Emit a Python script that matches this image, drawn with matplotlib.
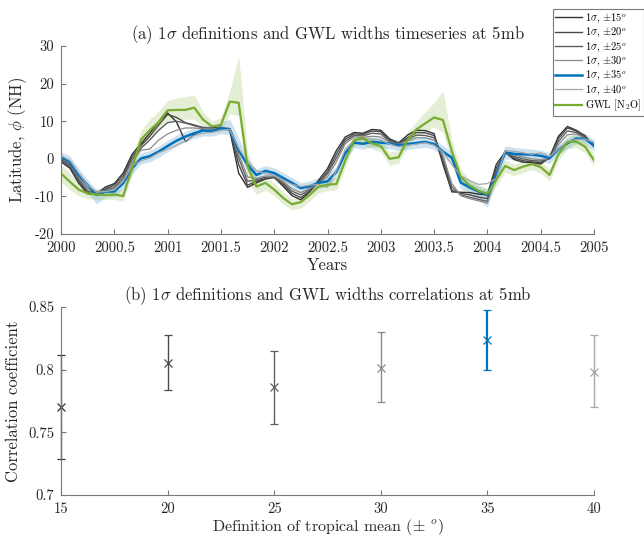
import matplotlib
matplotlib.use('Agg')
import matplotlib.pyplot as plt
import numpy as np

plt.rcParams['font.family'] = 'serif'
plt.rcParams['font.serif'] = ['cmr10']
plt.rcParams['mathtext.fontset'] = 'cm'
plt.rcParams['axes.unicode_minus'] = False

# monthly timeseries, 2000 -> 2005
years = np.linspace(2000, 2005, 61)

lat15 = [-0.8, -2.5, -6.5, -9.3, -9.4, -7.5, -6.6, -3.8, 1.2, 4.0, 6.8, 9.8, 12.2, 9.8, 4.6, 6.4,
         8.0, 8.2, 8.4, 7.6, -3.8, -7.6, -6.4, -5.4, -4.9, -7.3, -9.8, -10.9, -8.8, -5.7, -2.6,
         2.2, 5.8, 7.0, 6.8, 7.8, 7.6, 5.3, 4.2, 6.3, 7.6, 7.5, 6.7, -1.5, -8.8, -8.9, -9.0, -9.4,
         -9.6, -1.5, 1.8, -0.2, -0.9, -1.0, -1.4, 0.4, 6.0, 8.6, 7.6, 6.1, 3.2]
lat20 = [-0.3, -2.0, -6.0, -9.0, -9.3, -8.0, -7.0, -4.5, 0.5, 3.5, 6.0, 9.0, 11.8, 11.0, 9.6, 9.0,
         8.3, 8.0, 8.2, 7.8, -1.5, -7.0, -6.0, -5.2, -5.0, -6.8, -9.2, -10.3, -8.6, -6.2, -3.4,
         1.2, 5.2, 6.6, 6.5, 7.4, 7.2, 5.0, 4.0, 5.6, 7.0, 6.9, 6.2, -0.5, -8.4, -9.2, -9.6, -10.2,
         -10.6, -2.5, 1.6, 0.2, -0.5, -0.8, -1.0, 0.2, 5.4, 8.2, 7.4, 5.8, 3.6]
lat25 = [0.0, -1.6, -5.4, -8.6, -9.0, -8.3, -7.6, -5.2, -0.2, 2.8, 5.0, 7.6, 9.6, 10.0, 9.5, 8.8,
         8.2, 8.0, 8.2, 8.0, 0.2, -6.0, -5.6, -4.9, -4.8, -6.4, -8.6, -9.6, -8.2, -6.4, -4.0,
         0.2, 4.6, 6.2, 6.1, 6.8, 6.6, 4.7, 3.9, 5.2, 6.3, 6.2, 5.6, 0.3, -7.5, -9.6, -10.2, -10.8,
         -11.3, -3.6, 1.6, 0.6, 0.0, -0.5, -0.6, 0.0, 4.6, 7.4, 7.0, 5.6, 3.9]
lat30 = [0.3, -1.2, -4.9, -8.0, -8.8, -8.5, -8.0, -5.8, -1.0, 2.3, 2.6, 5.0, 6.6, 7.6, 8.2, 8.2,
         8.0, 7.9, 8.2, 8.1, 1.2, -4.8, -5.2, -4.6, -4.6, -6.0, -8.0, -9.0, -7.8, -6.5, -4.8,
         -0.8, 4.0, 5.8, 5.7, 6.0, 5.8, 4.4, 3.8, 4.8, 5.6, 5.6, 5.0, 0.8, -6.6, -9.8, -10.6, -11.2,
         -11.8, -4.4, 1.8, 1.0, 0.5, 0.0, -0.2, 0.1, 3.8, 6.4, 6.6, 5.4, 4.1]
lat35 = [0.5, -0.8, -4.3, -7.0, -9.6, -8.7, -8.7, -6.5, -2.5, 0.1, 0.7, 1.9, 3.4, 4.8, 5.9, 6.8,
         7.5, 7.4, 8.1, 7.8, 2.3, -1.6, -4.3, -3.2, -3.8, -5.1, -6.4, -7.8, -7.3, -6.4, -6.0,
         -3.5, 1.5, 4.3, 4.0, 4.5, 4.3, 4.1, 3.6, 3.9, 4.2, 4.5, 3.9, 1.9, 0.3, -6.3, -7.6, -8.7,
         -9.6, -4.3, 1.7, 1.3, 1.2, 1.1, 0.8, 0.2, 2.5, 4.1, 5.4, 5.3, 3.5]
lat35_hi = [1.9, 0.8, -2.6, -5.6, -8.2, -7.3, -7.3, -5.0, -1.0, 1.6, 2.2, 3.4, 4.9, 6.3, 7.3, 8.2,
            8.9, 8.8, 9.6, 10.6, 5.5, 0.2, -2.8, -1.8, -2.4, -3.7, -5.0, -6.4, -5.9, -5.0, -4.5,
            -2.0, 3.0, 5.7, 5.4, 5.9, 5.7, 5.5, 5.0, 5.3, 5.6, 5.9, 5.3, 3.5, 1.8, -4.6, -6.0, -7.2,
            -8.2, -2.5, 3.5, 3.0, 2.8, 2.6, 2.3, 1.6, 3.9, 5.5, 6.8, 6.8, 5.0]
lat35_lo = [-0.8, -2.4, -6.0, -9.0, -12.0, -10.2, -10.1, -8.0, -4.0, -1.4, -0.8, 0.4, 1.9, 3.3, 4.5, 5.4,
            6.1, 6.0, 6.7, 6.4, 0.8, -3.4, -6.0, -4.6, -5.2, -6.5, -7.8, -9.2, -8.7, -7.8, -7.5,
            -5.0, 0.0, 2.9, 2.6, 3.1, 2.9, 2.7, 2.2, 2.5, 2.8, 3.1, 2.5, 0.3, -1.2, -8.0, -9.4, -11.0,
            -12.8, -6.0, 0.0, -0.2, -0.3, -0.4, -0.7, -1.2, 1.1, 2.7, 4.0, 3.9, 2.0]
lat40 = [0.8, -0.4, -3.8, -7.0, -8.9, -8.7, -8.3, -6.0, -1.9, -0.5, 0.2, 1.6, 2.6, 3.6, 4.8, 6.2,
         6.8, 7.0, 7.6, 7.8, 2.8, -0.8, -3.2, -3.9, -4.4, -5.6, -6.8, -7.4, -7.0, -6.8, -7.6,
         -3.2, 2.6, 5.0, 5.4, 5.2, 5.0, 3.9, 3.2, 3.6, 3.9, 4.3, 3.6, 1.8, -1.6, -4.5, -5.8, -6.8,
         -6.6, -5.2, 2.2, 2.0, 1.6, 1.2, 1.6, 0.6, 2.5, 4.5, 5.2, 5.2, 4.4]
gwl = [-3.9, -6.1, -8.2, -9.2, -9.5, -9.6, -9.5, -9.9, -2.5, 5.1, 7.6, 9.8, 12.9, 13.0, 13.0, 13.6,
       10.4, 8.6, 9.0, 15.2, 14.9, -2.0, -7.4, -6.4, -8.2, -10.4, -12.1, -11.5, -9.6, -7.4, -6.9,
       -6.7, -0.5, 5.0, 5.4, 4.1, 3.4, 0.0, 0.4, 5.0, 7.8, 9.4, 11.0, 10.3, 2.0, -4.8, -7.1, -8.5,
       -9.3, -5.6, -1.9, -3.0, -2.1, -1.4, -2.2, -4.3, 1.2, 4.4, 4.6, 3.2, -0.4]
gwl_hi = [-1.5, -3.8, -6.2, -7.6, -8.0, -8.2, -8.0, -8.2, 0.5, 7.5, 10.5, 12.8, 15.5, 16.2, 16.5, 17.0,
          12.5, 10.0, 11.0, 18.0, 27.5, 2.0, -5.0, -4.5, -6.5, -8.8, -10.6, -10.0, -8.0, -5.8, -5.3,
          -5.0, 1.5, 6.5, 7.0, 5.6, 5.0, 1.8, 2.2, 7.0, 10.0, 12.5, 15.0, 18.0, 5.0, -2.8, -5.4, -7.0,
          -7.8, -3.8, -0.3, -1.4, -0.6, 0.0, -0.6, -2.8, 2.8, 6.2, 6.4, 4.8, 1.2]
gwl_lo = [-6.0, -8.3, -9.8, -10.6, -10.8, -10.9, -10.8, -11.3, -4.5, 3.0, 5.5, 7.4, 10.0, 10.5, 10.5, 10.6,
          8.5, 7.0, 7.2, 12.0, 11.5, -6.0, -9.6, -8.3, -9.8, -12.0, -13.6, -13.1, -11.2, -9.0, -8.5,
          -8.3, -2.3, 3.5, 3.8, 2.6, 1.8, -1.8, -1.2, 3.2, 5.8, 7.2, 8.5, 7.0, -0.5, -6.5, -8.8, -10.0,
          -10.6, -7.3, -3.5, -4.6, -3.6, -2.9, -3.8, -5.8, -0.4, 2.7, 3.0, 1.6, -2.0]

# correlations (panel b)
definitions = [15, 20, 25, 30, 35, 40]
corr = [0.770, 0.805, 0.786, 0.801, 0.824, 0.798]
corr_lo = [0.729, 0.784, 0.757, 0.774, 0.800, 0.770]
corr_hi = [0.812, 0.828, 0.815, 0.830, 0.848, 0.828]

labels = [r'1$\sigma$, $\pm15^o$', r'1$\sigma$, $\pm20^o$', r'1$\sigma$, $\pm25^o$',
          r'1$\sigma$, $\pm30^o$', r'1$\sigma$, $\pm35^o$', r'1$\sigma$, $\pm40^o$']
colors = ['#333333', '#4a4a4a', '#5f5f5f', '#8a8a8a', '#0072BD', '#a8a8a8']
widths = [1.0, 1.0, 1.0, 0.9, 1.8, 0.9]
blue = '#0072BD'
green = '#77AC30'
axcol = '#7a7a7a'
txtcol = '#262626'

fig = plt.figure(figsize=(6.44, 5.39), dpi=100)
ax1 = fig.add_axes([61/644, 1-234/539, 533/644, 188/539])
ax2 = fig.add_axes([61/644, 1-495/539, 533/644, 188/539])

ax1.fill_between(years, lat35_lo, lat35_hi, color=blue, alpha=0.2, lw=0)
ax1.fill_between(years, gwl_lo, gwl_hi, color=green, alpha=0.2, lw=0)
series = [lat15, lat20, lat25, lat30, lat35, lat40]
for i in range(len(series)):
    ax1.plot(years, series[i], color=colors[i], lw=widths[i], label=labels[i])
ax1.plot(years, gwl, color=green, lw=1.6, label=r'GWL [N$_2$O]')

ax1.set_xlim(2000, 2005)
ax1.set_ylim(-20, 30)
xt = [2000, 2000.5, 2001, 2001.5, 2002, 2002.5, 2003, 2003.5, 2004, 2004.5, 2005]
ax1.set_xticks(xt)
ax1.set_xticklabels(['2000', '2000.5', '2001', '2001.5', '2002', '2002.5', '2003', '2003.5',
                     '2004', '2004.5', '2005'])
ax1.set_yticks([-20, -10, 0, 10, 20, 30])
ax1.set_yticklabels(['-20', '-10', '0', '10', '20', '30'])
ax1.set_xlabel('Years', fontsize=12, color=txtcol, labelpad=2)
ax1.set_ylabel(r'Latitude, $\phi$ (NH)', fontsize=12, color=txtcol, labelpad=4)
ax1.set_title(r'(a) 1$\sigma$ definitions and GWL widths timeseries at 5mb', fontsize=12,
              color=txtcol, pad=5)
leg = ax1.legend(loc='upper right', bbox_to_anchor=(1.0, 1-9/539), bbox_transform=fig.transFigure,
                 fontsize=7.5, handlelength=2.6, handletextpad=0.3, labelspacing=0.1,
                 borderpad=0.25, borderaxespad=0, fancybox=False, framealpha=1)
leg.get_frame().set_edgecolor('#7a7a7a')
leg.get_frame().set_linewidth(0.8)

for i in range(len(definitions)):
    err = [[corr[i] - corr_lo[i]], [corr_hi[i] - corr[i]]]
    lw = 1.6 if i == 4 else 1.0
    eb = ax2.errorbar(definitions[i], corr[i], yerr=err, fmt='x', color=colors[i], ecolor=colors[i],
                      elinewidth=lw, capsize=3, capthick=lw, markersize=6, mew=0.9)
    for art in eb.get_children():
        art.set_clip_on(False)
ax2.set_xlim(15, 40)
ax2.set_ylim(0.7, 0.85)
ax2.set_xticks(definitions)
ax2.set_xticklabels(['15', '20', '25', '30', '35', '40'])
ax2.set_yticks([0.7, 0.75, 0.8, 0.85])
ax2.set_yticklabels(['0.7', '0.75', '0.8', '0.85'])
ax2.set_xlabel(r'Definition of tropical mean ($\pm$ $^o$)', fontsize=11.5, color=txtcol, labelpad=1)
ax2.set_ylabel('Correlation coefficient', fontsize=12, color=txtcol, labelpad=5)
ax2.set_title(r'(b) 1$\sigma$ definitions and GWL widths correlations at 5mb', fontsize=12,
              color=txtcol, pad=5)

for ax in [ax1, ax2]:
    ax.spines['top'].set_visible(False)
    ax.spines['right'].set_visible(False)
    ax.spines['left'].set_color(axcol)
    ax.spines['bottom'].set_color(axcol)
    ax.tick_params(direction='in', length=3.5, width=0.8, color=axcol, labelcolor=txtcol,
                   labelsize=10.5, pad=5)

fig.savefig('out.png', dpi=100)
